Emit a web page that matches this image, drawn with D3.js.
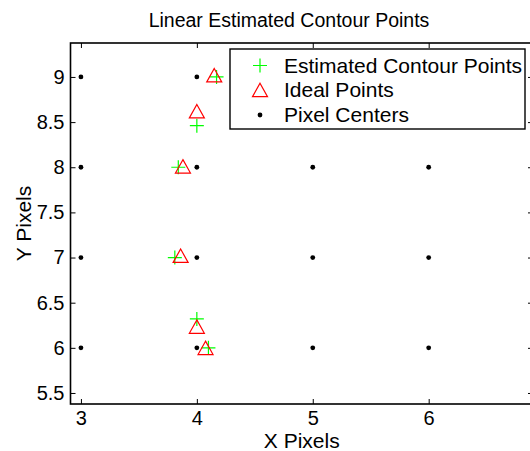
<!DOCTYPE html>
<html>
<head>
<meta charset="utf-8">
<script src="https://cdn.jsdelivr.net/npm/d3@7"></script>
<style>
  html, body { margin: 0; padding: 0; background: #fff; }
  svg { display: block; font-family: "Liberation Sans", Arial, Helvetica, sans-serif; }
</style>
</head>
<body>
<svg id="chart" width="530" height="451"></svg>
<script>
// Pixel grid centres
const pixelX = [3, 4, 5, 6];
const pixelY = [6, 7, 8, 9];

// Contour points estimated by linear interpolation
const estX = [4.17, 4.0, 3.84, 3.81, 4.0, 4.10];
const estY = [9.0, 8.46, 8.0, 7.0, 6.32, 6.0];

// Ideal (true) contour points
const idealX = [4.15, 4.0, 3.88, 3.86, 4.0, 4.075];
const idealY = [9.02, 8.62, 8.01, 7.02, 6.235, 6.0];

const xTicks = [3, 4, 5, 6];
const yTicks = [5.5, 6, 6.5, 7, 7.5, 8, 8.5, 9];
const legendLabels = ["Estimated Contour Points", "Ideal Points", "Pixel Centers"];

const svg = d3.select("#chart");
const L = 70.5, R = 533, T = 43, B = 404;

const x = d3.scaleLinear().domain([2.91, 6.9]).range([L, R]);
const y = d3.scaleLinear().domain([5.378, 9.376]).range([B, T]);

const green = "#00ff00", red = "#ff0000";

// Axes: ticks pointing inward on all four sides
const fmt = d => String(d);
const gB = svg.append("g").attr("transform", `translate(0,${B})`)
  .call(d3.axisBottom(x).tickValues(xTicks).tickFormat(fmt).tickSizeInner(-5).tickSizeOuter(0).tickPadding(7));
const gT = svg.append("g").attr("transform", `translate(0,${T})`)
  .call(d3.axisTop(x).tickValues(xTicks).tickFormat("").tickSizeInner(-5).tickSizeOuter(0));
const gL = svg.append("g").attr("transform", `translate(${L},0)`)
  .call(d3.axisLeft(y).tickValues(yTicks).tickFormat(fmt).tickSizeInner(-5).tickSizeOuter(0).tickPadding(6));
const gR = svg.append("g").attr("transform", `translate(${R},0)`)
  .call(d3.axisRight(y).tickValues(yTicks).tickFormat("").tickSizeInner(-5).tickSizeOuter(0));

[gB, gT, gL, gR].forEach(g => {
  g.select(".domain").remove();
  g.selectAll("line").attr("stroke", "#000").attr("stroke-width", 1);
  g.selectAll("text").attr("fill", "#000").style("font-size", "20px");
});

// Frame
svg.append("rect").attr("x", L).attr("y", T).attr("width", R - L).attr("height", B - T)
  .attr("fill", "none").attr("stroke", "#000").attr("stroke-width", 1.6);

// Pixel centres
const grid = [];
pixelY.forEach(py => pixelX.forEach(px => grid.push([px, py])));

const plot = svg.append("g");

// Estimated points (+)
estX.forEach((ex, i) => {
  const cx = x(ex), cy = y(estY[i]);
  plot.append("path")
    .attr("d", `M${cx - 7},${cy}H${cx + 7}M${cx},${cy - 7}V${cy + 7}`)
    .attr("stroke", green).attr("stroke-width", 1.2).attr("fill", "none");
});

// Ideal points (triangles)
const tri = (cx, cy) => `M${cx},${cy - 6.7}L${cx + 7.5},${cy + 6.7}L${cx - 7.5},${cy + 6.7}Z`;
idealX.forEach((ix, i) => {
  plot.append("path").attr("d", tri(x(ix), y(idealY[i])))
    .attr("stroke", red).attr("stroke-width", 1.2).attr("fill", "none");
});

// Pixel centres (dots)
plot.selectAll("circle.pc").data(grid).join("circle").attr("class", "pc")
  .attr("cx", d => x(d[0])).attr("cy", d => y(d[1])).attr("r", 2.4).attr("fill", "#000");

// Legend
const lg = svg.append("g");
lg.append("rect").attr("x", 230).attr("y", 49).attr("width", 295).attr("height", 80)
  .attr("fill", "#fff").attr("stroke", "#000").attr("stroke-width", 1.4);
const rowY = [65.5, 90, 115];
const mx = 260;
lg.append("path").attr("d", `M${mx - 7},${rowY[0]}H${mx + 7}M${mx},${rowY[0] - 7}V${rowY[0] + 7}`)
  .attr("stroke", green).attr("stroke-width", 1.2);
lg.append("path").attr("d", tri(mx, rowY[1])).attr("stroke", red).attr("stroke-width", 1.2).attr("fill", "none");
lg.append("circle").attr("cx", mx).attr("cy", rowY[2]).attr("r", 2.4).attr("fill", "#000");
legendLabels.forEach((t, i) => {
  lg.append("text").attr("x", 284).attr("y", rowY[i]).attr("dy", "0.35em")
    .style("font-size", "21px").attr("fill", "#000").text(t);
});

// Title and axis labels
svg.append("text").attr("x", 289).attr("y", 27).attr("text-anchor", "middle")
  .style("font-size", "19.5px").attr("fill", "#000").text("Linear Estimated Contour Points");
svg.append("text").attr("x", (L + R) / 2).attr("y", 448).attr("text-anchor", "middle")
  .style("font-size", "21px").attr("fill", "#000").text("X Pixels");
svg.append("text").attr("transform", `translate(31,${(T + B) / 2}) rotate(-90)`).attr("text-anchor", "middle")
  .style("font-size", "21px").attr("fill", "#000").text("Y Pixels");
</script>
</body>
</html>
